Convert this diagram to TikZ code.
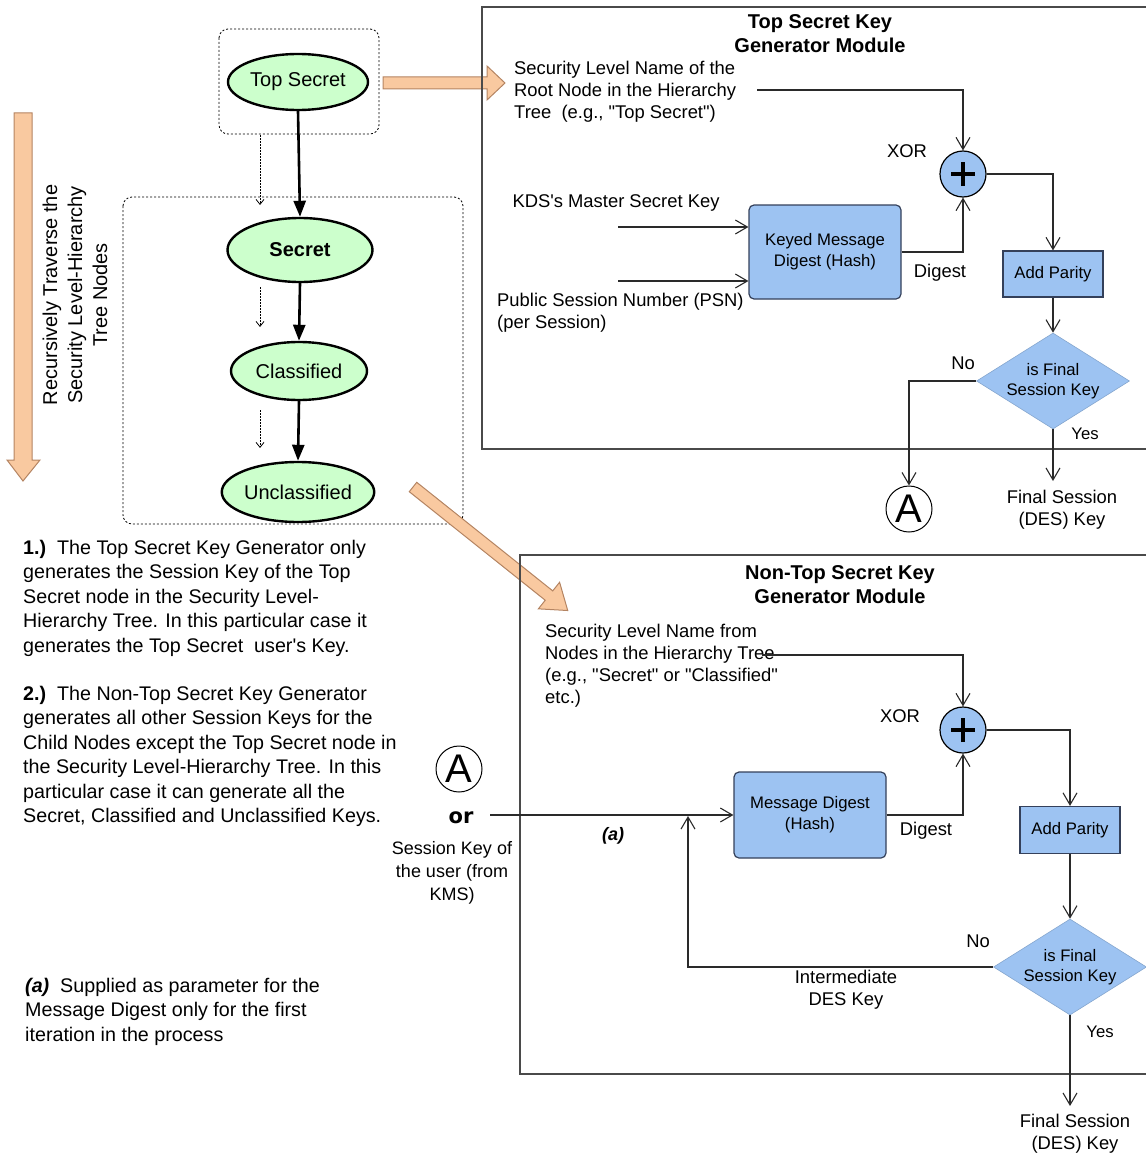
\documentclass[tikz,border=0pt]{standalone}
\usepackage{fontspec}
\setmainfont{Liberation Sans}
\newfontfamily\verdanalike{DejaVu Sans}
\usetikzlibrary{arrows.meta,shapes.geometric}
\definecolor{gfill}{HTML}{CCFFCC}
\definecolor{bfill}{HTML}{9DC3F2}
\definecolor{bdraw}{HTML}{34405A}
\definecolor{ofill}{HTML}{F9C9A0}
\definecolor{odraw}{HTML}{B48462}
\definecolor{linec}{HTML}{2A2A2A}
\definecolor{boxc}{HTML}{4A4A4A}
\begin{document}
\begin{tikzpicture}[x=1pt,y=-1pt,
  lab/.style={font=\fontsize{18.4}{22}\selectfont, inner sep=0pt},
  ln/.style={draw=linec, line width=1.1},
  arr/.style={ln, -{Straight Barb[length=12pt,width=14pt,line width=1.1pt]}},
  tarr/.style={draw=black, line width=2.6, -{Triangle[length=16pt,width=12pt]}},
  darr/.style={draw=black, line width=0.8, dash pattern=on 1.5pt off 1.5pt, -{Straight Barb[length=5pt,width=8pt,line width=0.8pt]}},
  dbox/.style={draw=black, line width=0.8, dash pattern=on 2pt off 2pt, rounded corners=9},
  ell/.style={ellipse, draw=black, line width=2.4, fill=gfill, inner sep=0pt, font=\fontsize{20}{24}\selectfont},
  proc/.style={rectangle, rounded corners=5, draw=bdraw, line width=1.2, fill=bfill, inner sep=0pt, align=center, font=\fontsize{16.7}{21}\selectfont},
  par/.style={rectangle, draw=bdraw, line width=1.2, fill=bfill, inner sep=0pt, minimum width=100, minimum height=46, font=\fontsize{16.7}{20}\selectfont},
  dec/.style={diamond, draw=bfill!85!black, line width=0.6, fill=bfill, inner sep=0pt, minimum width=153, minimum height=96,
    label={[align=center, inner sep=0pt, font=\fontsize{16.7}{20}\selectfont]center:#1}},
  xorc/.style={circle, draw=black, line width=1.2, fill=bfill, minimum size=46, inner sep=0pt},
  conn/.style={circle, draw=black, line width=1, minimum size=46, inner sep=0pt, font=\fontsize{40}{40}\selectfont},
  modbox/.style={draw=boxc, line width=1.6},
  bigarrow/.style={fill=ofill, draw=odraw, line width=1}
]
\useasboundingbox (0,0) rectangle (1145,1153);

% ---------------- tree -----------------
\draw[dbox] (219,29) rectangle (379,134);
\draw[dbox] (123,197) rectangle (463,524);
\node[ell, minimum width=140, minimum height=56] (ts) at (298,82) {Top Secret};
\node[ell, minimum width=145, minimum height=64] (sec) at (300,250) {\bfseries Secret};
\node[ell, minimum width=136, minimum height=58] (cla) at (299,371) {Classified};
\node[ell, minimum width=152, minimum height=60] (unc) at (298,492) {Unclassified};
\draw[tarr] (ts.south) -- (sec.north);
\draw[tarr] (sec.south) -- (cla.north);
\draw[tarr] (cla.south) -- (unc.north);
\coordinate (d1a) at (260,135); \coordinate (d1b) at (260,205);
\coordinate (d2a) at (260,287); \coordinate (d2b) at (260,327);
\coordinate (d3a) at (260,410); \coordinate (d3b) at (260,448);
\draw[darr] (d1a) -- (d1b);
\draw[darr] (d2a) -- (d2b);
\draw[darr] (d3a) -- (d3b);

% big down arrow
\draw[bigarrow] (14,113) -- (32,113) -- (32,460) -- (40,460) -- (23,481) -- (7,460) -- (14,460) -- cycle;
\node[rotate=90, align=center, font=\fontsize{20}{25}\selectfont, inner sep=0pt] (trav) at (75,295)
  {Recursively Traverse the\\Security Level-Hierarchy\\Tree Nodes};

% arrow to top module
\draw[bigarrow] (383,77) -- (487,77) -- (487,66) -- (505,83) -- (487,100) -- (487,89) -- (383,89) -- cycle;
% diagonal arrow to bottom module
\begin{scope}[shift={(413,487)}, rotate=-38.6]
\draw[bigarrow] (0,-6) -- (174,-6) -- (174,-17) -- (198,0) -- (174,17) -- (174,6) -- (0,6) -- cycle;
\end{scope}

% ---------------- left texts -----------------
\node[anchor=north west, align=left, inner sep=0pt, font=\fontsize{19.7}{24.5}\selectfont] (t1) at (23,540)
  {\textbf{1.)}\ \ The Top Secret Key Generator only\\generates the Session Key of the Top\\Secret node in the Security Level-\\Hierarchy Tree. In this particular case it\\generates the Top Secret\ \ user\textquotesingle s Key.};
\node[anchor=north west, align=left, inner sep=0pt, font=\fontsize{19.7}{24.5}\selectfont] (t2) at (23,686)
  {\textbf{2.)}\ \ The Non-Top Secret Key Generator\\generates all other Session Keys for the\\Child Nodes except the Top Secret node in\\the Security Level-Hierarchy Tree. In this\\particular case it can generate all the\\Secret, Classified and Unclassified Keys.};
\node[anchor=north west, align=left, inner sep=0pt, font=\fontsize{19.7}{24.5}\selectfont] (t3) at (25,978)
  {\textbf{\itshape (a)}\ \ Supplied as parameter for the\\Message Digest only for the first\\iteration in the process};

% ---------------- top module -----------------
\draw[modbox] (1146,7) -- (482,7) -- (482,449) -- (1146,449);
\node[align=center, inner sep=0pt, font=\bfseries\fontsize{20}{24}\selectfont] (tit1) at (820,34) {Top Secret Key\\Generator Module};
\node[lab, anchor=north west, align=left] (in1t) at (514,61) {Security Level Name of the\\Root Node in the Hierarchy\\Tree\ \ (e.g., \textquotedbl Top Secret\textquotedbl)};
\coordinate (in1) at (757,90);
\node[xorc] (x1) at (963,174) {};
\draw[line width=3.6] ([xshift=-12pt]x1.center) -- ([xshift=12pt]x1.center) ([yshift=-12pt]x1.center) -- ([yshift=12pt]x1.center);
\node[lab] (xor1) at (907,151) {XOR};
\node[lab] (kds) at (616,203) {KDS\textquotesingle s Master Secret Key};
\node[proc, minimum width=152, minimum height=94] (km) at (825,252) {Keyed Message\\Digest (Hash)};
\coordinate (k1) at (618,227);
\coordinate (k2) at (618,281);
\node[lab, anchor=north west, align=left] (psn) at (497,293) {Public Session Number (PSN)\\(per Session)};
\node[lab] (dig1) at (940,273) {Digest};
\node[par] (ap1) at (1053,274) {Add Parity};
\node[dec={is Final\\Session Key}] (dc1) at (1053,381) {};
\node[lab] (no1) at (963,363) {No};
\node[lab, font=\fontsize{16.7}{20}\selectfont] (yes1) at (1085,434) {Yes};
\node[conn] (A1) at (909,509) {A};
\node[lab, align=center] (fs1) at (1062,510) {Final Session\\(DES) Key};
\coordinate (fe1) at (1053,481);

\draw[arr] (in1) -| (x1.north);
\draw[arr] (k1) -- (k1 -| km.west);
\draw[arr] (k2) -- (k2 -| km.west);
\draw[arr] (km.east) -| (x1.south);
\draw[arr] (x1.east) -| (ap1.north);
\draw[arr] (ap1.south) -- (dc1.north);
\draw[arr] (dc1.west) -| (A1.north);
\draw[arr] (dc1.south) -- (fe1);

% ---------------- bottom module -----------------
\draw[modbox] (1146,555) -- (520,555) -- (520,1074) -- (1146,1074);
\node[align=center, inner sep=0pt, font=\bfseries\fontsize{20}{24}\selectfont] (tit2) at (840,585) {Non-Top Secret Key\\Generator Module};
\node[lab, anchor=north west, align=left] (in2t) at (545,624) {Security Level Name from\\Nodes in the Hierarchy Tree\\(e.g., \textquotedbl Secret\textquotedbl{} or \textquotedbl Classified\textquotedbl\\etc.)};
\coordinate (in2) at (762,655);
\node[xorc] (x2) at (963,730) {};
\draw[line width=3.6] ([xshift=-12pt]x2.center) -- ([xshift=12pt]x2.center) ([yshift=-12pt]x2.center) -- ([yshift=12pt]x2.center);
\node[lab] (xor2) at (900,716) {XOR};
\node[proc, minimum width=152, minimum height=86] (md) at (810,815) {Message Digest\\(Hash)};
\node[lab] (dig2) at (926,831) {Digest};
\node[par, minimum height=47] (ap2) at (1070,830) {Add Parity};
\node[dec={is Final\\Session Key}] (dc2) at (1070,967) {};
\node[lab] (no2) at (978,941) {No};
\node[lab, font=\fontsize{16.7}{20}\selectfont] (yes2) at (1100,1032) {Yes};
\node[lab, align=center] (inter) at (846,990) {Intermediate\\DES Key};
\node[conn] (A2) at (459,769) {A};
\node[inner sep=0pt, font=\verdanalike\bfseries\fontsize{21}{24}\selectfont] (or) at (461,818) {or};
\coordinate (orend) at (490,815);
\node[inner sep=0pt, font=\bfseries\itshape\fontsize{18}{22}\selectfont] (alab) at (613,836) {(a)};
\node[lab, align=center, font=\fontsize{18}{23}\selectfont] (skey) at (452,873) {Session Key of\\the user (from\\KMS)};
\coordinate (fb) at (688,816);
\coordinate (fe2) at (1070,1106);
\node[lab, align=center] (fs2) at (1075,1134) {Final Session\\(DES) Key};

\draw[arr] (in2) -| (x2.north);
\draw[arr] (orend) -- (md.west);
\draw[arr] (md.east) -| (x2.south);
\draw[arr] (x2.east) -| (ap2.north);
\draw[arr] (ap2.south) -- (dc2.north);
\draw[arr] (dc2.west) -| (fb);
\draw[arr] (dc2.south) -- (fe2);
\end{tikzpicture}
\end{document}
